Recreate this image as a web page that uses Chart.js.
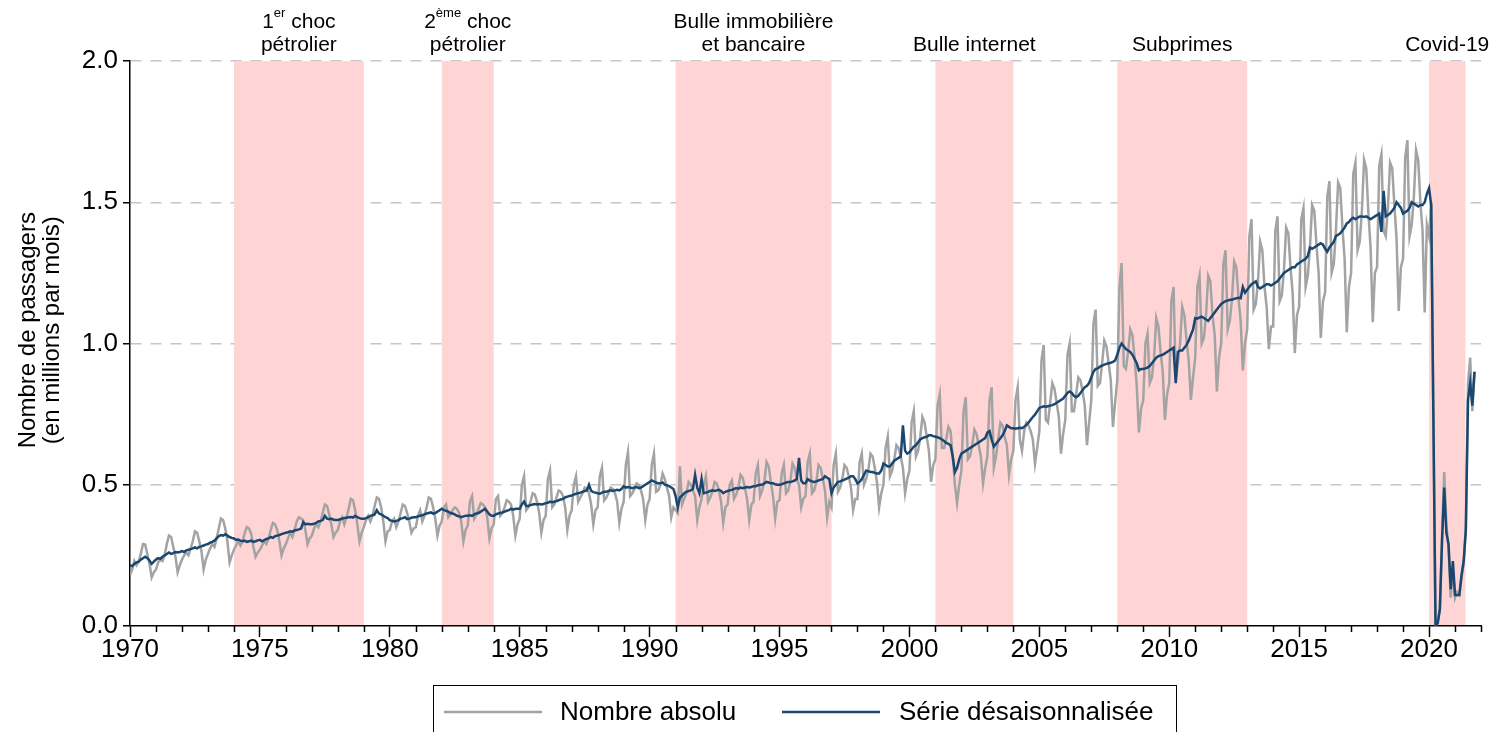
<!DOCTYPE html>
<html>
<head>
<meta charset="utf-8">
<script src="https://cdn.jsdelivr.net/npm/chart.js@4.4.0/dist/chart.umd.min.js"></script>
<style>
  html, body { margin: 0; padding: 0; background: #fff; }
  #wrap { width: 1495px; height: 732px; }
</style>
</head>
<body>
<div id="wrap"><canvas id="myChart" width="1495" height="732"></canvas></div>
<script>
// monthly series, starting January 1970
var startYear = 1970;

var rawSeries = [
	0.18,0.2,0.23,0.215,0.228,0.255,0.29,0.288,0.255,0.22,0.172,0.19, // 1970
	0.2,0.225,0.235,0.23,0.25,0.29,0.32,0.315,0.28,0.245,0.19,0.215,
	0.235,0.25,0.26,0.25,0.275,0.3,0.335,0.33,0.3,0.265,0.2,0.235,
	0.255,0.275,0.29,0.28,0.31,0.345,0.38,0.375,0.345,0.3,0.225,0.25,
	0.27,0.285,0.3,0.285,0.3,0.33,0.35,0.345,0.325,0.28,0.245,0.26,
	0.27,0.285,0.3,0.29,0.31,0.34,0.365,0.36,0.34,0.3,0.25,0.275, // 1975
	0.29,0.31,0.33,0.315,0.34,0.37,0.385,0.38,0.375,0.34,0.29,0.31,
	0.32,0.345,0.36,0.35,0.37,0.4,0.43,0.425,0.395,0.36,0.315,0.33,
	0.34,0.37,0.385,0.36,0.385,0.415,0.45,0.445,0.41,0.36,0.3,0.33,
	0.35,0.375,0.39,0.37,0.39,0.425,0.455,0.45,0.42,0.37,0.3,0.335,
	0.34,0.37,0.38,0.35,0.37,0.4,0.43,0.425,0.4,0.37,0.33,0.345, // 1980
	0.35,0.39,0.41,0.37,0.39,0.42,0.455,0.45,0.42,0.38,0.32,0.355,
	0.37,0.42,0.43,0.385,0.395,0.41,0.42,0.415,0.4,0.37,0.3,0.34,
	0.355,0.44,0.46,0.38,0.395,0.415,0.435,0.43,0.42,0.385,0.31,0.345,
	0.36,0.45,0.46,0.39,0.4,0.42,0.445,0.44,0.43,0.39,0.32,0.36,
	0.38,0.5,0.53,0.41,0.42,0.44,0.47,0.465,0.44,0.4,0.33,0.375, // 1985
	0.39,0.52,0.55,0.42,0.43,0.455,0.48,0.475,0.46,0.42,0.34,0.39,
	0.41,0.5,0.53,0.44,0.455,0.47,0.49,0.485,0.47,0.43,0.36,0.41,
	0.42,0.53,0.56,0.445,0.455,0.47,0.49,0.485,0.47,0.44,0.365,0.415,
	0.44,0.57,0.615,0.46,0.47,0.485,0.505,0.5,0.48,0.45,0.375,0.43,
	0.45,0.57,0.61,0.475,0.48,0.5,0.54,0.52,0.49,0.46,0.385,0.42, // 1990
	0.41,0.4,0.565,0.43,0.45,0.47,0.51,0.5,0.48,0.46,0.375,0.42,
	0.45,0.5,0.53,0.44,0.455,0.475,0.51,0.505,0.48,0.44,0.365,0.42,
	0.43,0.5,0.515,0.45,0.465,0.49,0.535,0.525,0.49,0.45,0.375,0.43,
	0.44,0.54,0.57,0.46,0.48,0.51,0.58,0.565,0.51,0.46,0.38,0.44,
	0.445,0.54,0.57,0.47,0.48,0.51,0.575,0.56,0.52,0.5,0.42,0.45, // 1995
	0.46,0.58,0.61,0.47,0.48,0.51,0.57,0.56,0.52,0.48,0.385,0.44,
	0.42,0.57,0.61,0.475,0.49,0.52,0.57,0.56,0.53,0.49,0.41,0.45,
	0.45,0.58,0.61,0.5,0.52,0.55,0.61,0.6,0.56,0.51,0.42,0.47,
	0.5,0.63,0.67,0.53,0.55,0.59,0.64,0.63,0.6,0.56,0.47,0.52,
	0.55,0.72,0.76,0.6,0.62,0.67,0.74,0.72,0.67,0.62,0.51,0.57, // 2000
	0.59,0.78,0.82,0.63,0.63,0.66,0.705,0.69,0.6,0.5,0.435,0.5,
	0.55,0.76,0.81,0.59,0.6,0.64,0.695,0.68,0.64,0.6,0.505,0.56,
	0.6,0.8,0.845,0.56,0.6,0.66,0.72,0.71,0.67,0.64,0.535,0.59,
	0.62,0.8,0.845,0.66,0.62,0.69,0.72,0.71,0.69,0.66,0.575,0.63,
	0.69,0.94,0.995,0.73,0.72,0.79,0.86,0.84,0.79,0.74,0.61,0.68, // 2005
	0.73,0.96,1.0,0.76,0.76,0.82,0.88,0.87,0.83,0.78,0.64,0.72,
	0.8,1.07,1.12,0.85,0.86,0.93,1.01,0.99,0.93,0.87,0.705,0.79,
	0.87,1.2,1.285,0.92,0.91,0.97,1.05,1.03,0.95,0.85,0.685,0.77,
	0.8,1.0,1.035,0.86,0.88,0.95,1.09,1.06,0.97,0.9,0.73,0.82,
	0.86,1.15,1.2,0.87,0.93,1.0,1.13,1.1,1.01,0.94,0.8,0.88, // 2010
	0.95,1.2,1.24,1.0,1.02,1.1,1.24,1.22,1.1,1.03,0.83,0.95,
	1.0,1.28,1.33,1.05,1.08,1.16,1.29,1.27,1.16,1.08,0.905,1.0,
	1.05,1.38,1.44,1.12,1.14,1.22,1.36,1.33,1.2,1.13,0.98,1.06,
	1.06,1.4,1.45,1.15,1.17,1.26,1.41,1.39,1.27,1.18,0.966,1.1,
	1.13,1.44,1.48,1.2,1.24,1.34,1.49,1.47,1.35,1.25,1.02,1.15, // 2015
	1.18,1.52,1.575,1.25,1.28,1.4,1.57,1.55,1.41,1.3,1.04,1.2,
	1.25,1.6,1.64,1.33,1.36,1.47,1.65,1.62,1.46,1.34,1.075,1.25,
	1.27,1.63,1.67,1.4,1.38,1.48,1.64,1.62,1.49,1.37,1.115,1.27,
	1.3,1.66,1.72,1.38,1.42,1.52,1.685,1.65,1.5,1.4,1.11,1.42,
	1.38,1.5,0.72,0.0,0.01,0.06,0.32,0.545,0.36,0.28,0.1,0.2, // 2020
	0.1,0.12,0.11,0.17,0.22,0.35,0.86,0.95,0.76,0.9
];

var adjSeries = [
	0.215,0.212,0.22,0.225,0.228,0.235,0.24,0.245,0.24,0.232,0.22,0.228, // 1970
	0.235,0.24,0.238,0.245,0.25,0.255,0.26,0.255,0.258,0.262,0.26,0.262,
	0.265,0.262,0.268,0.27,0.272,0.275,0.278,0.275,0.28,0.282,0.285,0.288,
	0.29,0.295,0.298,0.302,0.31,0.318,0.322,0.32,0.325,0.32,0.315,0.312,
	0.31,0.305,0.306,0.302,0.3,0.302,0.298,0.3,0.302,0.298,0.3,0.303,
	0.305,0.3,0.304,0.308,0.31,0.315,0.312,0.318,0.32,0.322,0.325,0.328, // 1975
	0.33,0.332,0.335,0.334,0.338,0.34,0.342,0.345,0.368,0.36,0.362,0.36,
	0.36,0.362,0.365,0.37,0.372,0.375,0.39,0.38,0.378,0.38,0.376,0.375,
	0.375,0.378,0.38,0.382,0.383,0.385,0.386,0.384,0.39,0.385,0.382,0.38,
	0.38,0.382,0.385,0.39,0.392,0.395,0.41,0.398,0.395,0.39,0.385,0.382,
	0.375,0.372,0.37,0.372,0.375,0.38,0.382,0.385,0.378,0.38,0.383,0.385, // 1980
	0.385,0.388,0.39,0.392,0.395,0.398,0.4,0.402,0.398,0.4,0.405,0.41,
	0.415,0.41,0.408,0.405,0.4,0.398,0.395,0.39,0.388,0.385,0.388,0.39,
	0.39,0.392,0.39,0.395,0.398,0.4,0.405,0.41,0.415,0.405,0.395,0.39,
	0.39,0.395,0.398,0.4,0.402,0.405,0.408,0.41,0.415,0.412,0.415,0.415,
	0.415,0.43,0.44,0.425,0.425,0.428,0.43,0.432,0.43,0.432,0.43,0.432, // 1985
	0.435,0.436,0.44,0.438,0.44,0.442,0.445,0.448,0.45,0.455,0.458,0.46,
	0.462,0.465,0.468,0.47,0.472,0.475,0.478,0.48,0.5,0.478,0.474,0.472,
	0.47,0.468,0.472,0.475,0.475,0.478,0.48,0.478,0.48,0.482,0.48,0.485,
	0.495,0.49,0.492,0.49,0.488,0.49,0.492,0.488,0.49,0.495,0.5,0.505,
	0.51,0.515,0.512,0.508,0.505,0.505,0.508,0.5,0.498,0.495,0.49,0.485, // 1990
	0.46,0.42,0.455,0.462,0.47,0.475,0.478,0.48,0.485,0.535,0.49,0.47,
	0.52,0.47,0.472,0.475,0.478,0.48,0.478,0.48,0.482,0.478,0.47,0.475,
	0.478,0.48,0.482,0.485,0.488,0.486,0.49,0.488,0.49,0.492,0.49,0.492,
	0.495,0.495,0.498,0.5,0.5,0.505,0.51,0.508,0.505,0.505,0.502,0.5,
	0.5,0.502,0.505,0.508,0.51,0.51,0.512,0.515,0.52,0.595,0.515,0.505, // 1995
	0.505,0.52,0.515,0.512,0.51,0.512,0.515,0.518,0.52,0.53,0.525,0.52,
	0.47,0.49,0.5,0.51,0.512,0.515,0.518,0.522,0.525,0.53,0.53,0.52,
	0.505,0.51,0.52,0.535,0.55,0.548,0.545,0.545,0.542,0.54,0.54,0.55,
	0.575,0.57,0.565,0.565,0.575,0.585,0.59,0.595,0.6,0.71,0.62,0.61,
	0.615,0.625,0.635,0.64,0.65,0.66,0.665,0.668,0.67,0.675,0.675,0.672, // 2000
	0.67,0.668,0.665,0.66,0.655,0.648,0.645,0.64,0.6,0.545,0.56,0.59,
	0.61,0.615,0.62,0.625,0.63,0.635,0.64,0.645,0.65,0.655,0.66,0.665,
	0.685,0.69,0.66,0.635,0.645,0.655,0.665,0.675,0.69,0.71,0.705,0.7,
	0.7,0.698,0.7,0.702,0.7,0.705,0.712,0.72,0.73,0.74,0.748,0.76,
	0.772,0.775,0.778,0.776,0.778,0.78,0.782,0.785,0.79,0.795,0.8,0.805, // 2005
	0.815,0.825,0.83,0.825,0.815,0.81,0.815,0.825,0.835,0.845,0.85,0.86,
	0.88,0.9,0.91,0.912,0.918,0.922,0.925,0.928,0.93,0.932,0.935,0.94,
	0.96,0.985,1.0,0.99,0.98,0.975,0.97,0.96,0.945,0.93,0.905,0.91,
	0.91,0.912,0.915,0.92,0.93,0.94,0.95,0.955,0.958,0.96,0.965,0.97,
	0.975,0.98,0.985,0.86,0.97,0.975,0.975,0.985,0.995,1.01,1.03,1.05, // 2010
	1.09,1.088,1.092,1.095,1.09,1.085,1.08,1.09,1.1,1.11,1.12,1.13,
	1.14,1.145,1.15,1.152,1.155,1.155,1.158,1.16,1.162,1.16,1.2,1.18,
	1.19,1.2,1.21,1.215,1.22,1.2,1.195,1.2,1.205,1.21,1.21,1.205,
	1.21,1.215,1.22,1.23,1.24,1.25,1.255,1.26,1.265,1.27,1.27,1.28,
	1.285,1.29,1.295,1.3,1.31,1.34,1.335,1.34,1.345,1.35,1.355,1.35, // 2015
	1.335,1.325,1.34,1.35,1.36,1.38,1.385,1.39,1.4,1.41,1.425,1.43,
	1.44,1.445,1.44,1.445,1.45,1.45,1.448,1.45,1.445,1.44,1.445,1.45,
	1.455,1.46,1.395,1.54,1.45,1.455,1.46,1.47,1.48,1.5,1.49,1.48,
	1.46,1.465,1.47,1.48,1.5,1.495,1.49,1.485,1.49,1.49,1.5,1.53,
	1.55,1.49,0.75,0.0,0.01,0.06,0.3,0.49,0.33,0.29,0.13,0.23, // 2020
	0.11,0.11,0.11,0.18,0.23,0.34,0.8,0.86,0.78,0.9
];

var seriesNames = ['Nombre absolu', 'Série désaisonnalisée'];
var xTickYears = [1970, 1975, 1980, 1985, 1990, 1995, 2000, 2005, 2010, 2015, 2020];
var yTickValues = [0, 0.5, 1, 1.5, 2];

// crisis periods ; '^' marks superscript text
var crisisStart = [1974, 1982, 1991, 2001, 2008, 2020];
var crisisEnd = [1979, 1984, 1997, 2004, 2013, 2021.4];
var crisisLabels = [
	['1^er^ choc', 'pétrolier'],
	['2^ème^ choc', 'pétrolier'],
	['Bulle immobilière', 'et bancaire'],
	['Bulle internet'],
	['Subprimes'],
	['Covid-19']
];

var FONT = "'Liberation Sans', Arial, sans-serif";
var GREY = '#a3a3a3';
var NAVY = '#1a476f';

function toPoints(values){
	return values.map(function(v, i){
		return {x: startYear + i / 12, y: v};
	});
}

// pink bands, under the lines but over the grid
var bandsPlugin = {
	id: 'bands',
	beforeDatasetsDraw: function(chart){
		var ctx = chart.ctx, area = chart.chartArea, xs = chart.scales.x;
		ctx.save();
		ctx.fillStyle = '#ffd4d5';
		for (var i = 0; i < crisisStart.length; i++){
			var x0 = xs.getPixelForValue(crisisStart[i]);
			var x1 = xs.getPixelForValue(crisisEnd[i]);
			ctx.fillRect(x0, area.top, x1 - x0, area.bottom - area.top - 1);
		}
		ctx.restore();
	}
};

function drawRichLine(ctx, text, cx, cy){
	var parts = text.split('^');
	var mainFont = '21px ' + FONT, supFont = '13px ' + FONT;
	var w = 0;
	parts.forEach(function(p, i){
		ctx.font = i % 2 ? supFont : mainFont;
		w += ctx.measureText(p).width;
	});
	var x = cx - w / 2;
	ctx.textAlign = 'left';
	ctx.textBaseline = 'middle';
	parts.forEach(function(p, i){
		ctx.font = i % 2 ? supFont : mainFont;
		ctx.fillText(p, x, i % 2 ? cy - 9 : cy);
		x += ctx.measureText(p).width;
	});
}

var decorPlugin = {
	id: 'decor',
	afterDraw: function(chart){
		var ctx = chart.ctx, area = chart.chartArea, xs = chart.scales.x;
		ctx.save();
		ctx.fillStyle = '#000';
		// crisis labels above the plot
		for (var i = 0; i < crisisLabels.length; i++){
			var cx = (xs.getPixelForValue(crisisStart[i]) + xs.getPixelForValue(crisisEnd[i])) / 2;
			var lines = crisisLabels[i];
			for (var j = 0; j < lines.length; j++){
				var cy = area.top - 16 - (lines.length - 1 - j) * 23;
				drawRichLine(ctx, lines[j], cx, cy);
			}
		}
		// minor yearly ticks
		ctx.strokeStyle = '#000';
		ctx.lineWidth = 1.5;
		ctx.beginPath();
		for (var y = xs.min; y <= xs.max; y++){
			if (y % 5 === 0) continue;
			var px = Math.round(xs.getPixelForValue(y)) + 0.5;
			ctx.moveTo(px, area.bottom);
			ctx.lineTo(px, area.bottom + 6);
		}
		ctx.stroke();
		// legend box
		ctx.lineWidth = 1;
		ctx.strokeRect(433.5, 685.5, 743, 60);
		var items = [
			{ds: chart.data.datasets[0], x0: 444, x1: 542, tx: 560},
			{ds: chart.data.datasets[1], x0: 782, x1: 880, tx: 899}
		];
		ctx.font = '26px ' + FONT;
		ctx.textBaseline = 'middle';
		ctx.textAlign = 'left';
		items.forEach(function(it){
			ctx.strokeStyle = it.ds.borderColor;
			ctx.lineWidth = 2.5;
			ctx.beginPath();
			ctx.moveTo(it.x0, 712);
			ctx.lineTo(it.x1, 712);
			ctx.stroke();
			ctx.fillStyle = '#000';
			ctx.fillText(it.ds.label, it.tx, 713);
		});
		ctx.restore();
	}
};

var ctx = document.getElementById('myChart').getContext('2d');
var myChart = new Chart(ctx, {
	type: 'line',
	data: {
		datasets: [
			{
				label: seriesNames[0],
				data: toPoints(rawSeries),
				borderColor: GREY,
				borderWidth: 2.5,
				pointRadius: 0,
				tension: 0,
				order: 2
			},
			{
				label: seriesNames[1],
				data: toPoints(adjSeries),
				borderColor: NAVY,
				borderWidth: 2.5,
				pointRadius: 0,
				tension: 0,
				order: 1
			}
		]
	},
	options: {
		responsive: false,
		animation: false,
		devicePixelRatio: 1,
		layout: {padding: {top: 61, right: 14, bottom: 0, left: 0}},
		plugins: {legend: {display: false}, tooltip: {enabled: false}},
		scales: {
			x: {
				type: 'linear',
				min: 1970,
				max: 2022,
				afterBuildTicks: function(s){
					s.ticks = xTickYears.map(function(v){ return {value: v}; });
				},
				afterFit: function(s){ s.height = 106; },
				ticks: {
					callback: function(v){ return String(v); },
					font: {family: FONT, size: 26},
					color: '#000',
					padding: -3,
					maxRotation: 0,
					autoSkip: false
				},
				grid: {drawOnChartArea: false, tickLength: 11, tickColor: '#000', tickWidth: 1.5},
				border: {color: '#000', width: 1.5}
			},
			y: {
				min: 0,
				max: 2,
				afterBuildTicks: function(s){
					s.ticks = yTickValues.map(function(v){ return {value: v}; });
				},
				afterFit: function(s){ s.width = 130; },
				ticks: {
					callback: function(v){ return v.toFixed(1); },
					font: {family: FONT, size: 26},
					color: '#000',
					padding: 5
				},
				grid: {
					color: function(c){ return c.tick && c.tick.value === 0 ? 'rgba(0,0,0,0)' : '#c6c6c6'; },
					lineWidth: 1.5,
					tickLength: 7,
					tickColor: '#000',
					tickWidth: 1.5
				},
				border: {color: '#000', width: 1.5, dash: [11, 9]},
				title: {
					display: true,
					// leading spaces lift the centred title a little, as in the source
					text: ['    Nombre de passagers', '    (en millions par mois)'],
					font: {family: FONT, size: 24, lineHeight: 1},
					color: '#000',
					padding: {top: 16, bottom: 0}
				}
			}
		}
	},
	plugins: [bandsPlugin, decorPlugin]
});
</script>
</body>
</html>
